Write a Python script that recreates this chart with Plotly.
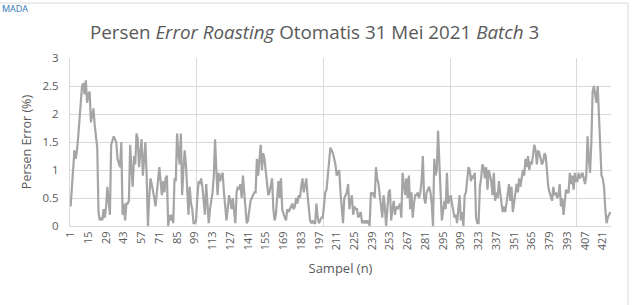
import plotly.graph_objects as go

values = [
    0.35, 0.75, 1.05, 1.35, 1.2, 1.35, 1.6, 1.9, 2.2, 2.5,
    2.55, 2.35, 2.6, 2.2, 2.35, 2.4, 1.85, 2.0, 2.1, 1.8,
    1.55, 1.4, 0.25, 0.1, 0.15, 0.1, 0.3, 0.15, 0.35, 0.7,
    0.45, 0.2, 1.45, 1.55, 1.6, 1.55, 1.5, 1.2, 1.1, 1.05,
    1.5, 0.2, 0.4, 0.1, 0.4, 0.4, 0.45, 1.45, 1.0, 0.7,
    1.25, 1.1, 1.65, 1.55, 1.05, 1.3, 1.55, 0.9, 1.2, 1.5,
    0.9, 0.0, 0.5, 0.85, 0.75, 0.65, 0.5, 0.35, 0.55, 0.75,
    1.05, 0.8, 0.55, 0.8, 0.6, 0.85, 0.9, 0.0, 0.2, 0.1,
    0.2, 0.05, 0.85, 0.8, 1.65, 1.3, 1.1, 1.65, 0.55, 1.0,
    1.35, 1.1, 0.75, 0.2, 0.7, 0.4, 0.3, 0.05, 0.05, 0.1,
    0.5, 0.8, 0.75, 0.85, 0.7, 0.5, 0.2, 0.75, 0.4, 0.05,
    0.3, 0.45, 0.6, 0.9, 1.55, 1.0, 0.55, 0.95, 0.8, 0.9,
    0.95, 0.6, 0.35, 0.1, 0.3, 0.55, 0.45, 0.3, 0.5, 0.2,
    0.05, 0.6, 0.7, 0.65, 0.75, 0.5, 0.9, 0.6, 0.3, 0.05,
    0.1, 0.3, 0.45, 0.5, 0.55, 0.6, 0.6, 1.2, 0.9, 1.2,
    1.45, 1.0, 1.3, 1.2, 0.95, 0.8, 0.55, 0.6, 0.7, 0.85,
    0.3, 0.1, 0.2, 0.5, 0.8, 0.5, 0.85, 0.3, 0.2, 0.15,
    0.1, 0.3, 0.25, 0.3, 0.35, 0.4, 0.3, 0.35, 0.5, 0.4,
    0.55, 0.5, 0.7, 0.85, 0.6, 0.7, 0.85, 0.55, 0.3, 0.1,
    0.05, 0.1, 0.05, 0.05, 0.4, 0.15, 0.05, 0.1, 0.15, 0.15,
    0.45, 0.6, 0.65, 0.95, 1.1, 1.4, 1.35, 1.3, 1.2, 1.1,
    0.9, 0.95, 1.0, 0.6, 0.35, 0.05, 0.5, 0.55, 0.6, 0.75,
    0.3, 0.45, 0.55, 0.2, 0.35, 0.3, 0.3, 0.15, 0.2, 0.25,
    0.05, 0.1, 0.05, 0.1, 0.05, 0.1, 0.0, 0.6, 0.55, 0.6,
    0.5, 1.05, 0.85, 0.75, 0.55, 0.3, 0.15, 0.55, 0.35, 0.0,
    0.3, 0.6, 0.65, 0.1, 0.3, 0.45, 0.2, 0.35, 0.3, 0.35,
    0.4, 0.15, 0.95, 0.75, 0.55, 0.85, 0.5, 0.9, 0.3, 0.6,
    0.15, 0.4, 0.55, 0.55, 0.6, 0.5, 0.6, 0.8, 1.25, 0.5,
    0.4, 0.6, 0.65, 0.7, 0.6, 0.4, 0.0, 1.2, 0.9, 1.0,
    1.7, 1.0, 0.6, 0.1, 0.3, 0.45, 0.3, 0.95, 0.4, 0.5,
    0.55, 0.4, 0.3, 0.15, 0.2, 0.05, 0.3, 0.55, 0.1, 0.25,
    0.0, 0.55, 0.6, 0.8, 1.05, 1.0, 0.8, 0.9, 0.85, 0.95,
    0.15, 0.05, 0.05, 0.7, 0.85, 1.1, 1.05, 0.85, 1.05, 0.65,
    1.0, 0.9, 0.8, 0.55, 0.95, 0.45, 0.6, 0.5, 0.8, 0.6,
    0.45, 0.25, 0.35, 0.25, 0.4, 0.6, 0.75, 0.45, 0.7, 0.25,
    0.4, 0.55, 0.75, 0.6, 0.85, 0.7, 0.85, 1.0, 0.9, 1.2,
    1.05, 1.25, 1.0, 1.15, 1.1, 1.3, 1.45, 1.35, 1.1, 1.35,
    1.3, 1.2, 1.1, 1.15, 1.3, 1.25, 0.9, 0.7, 0.6, 0.5,
    0.45, 0.7, 0.55, 0.6, 0.5, 0.55, 0.75, 0.35, 0.5, 0.2,
    0.5, 0.65, 0.6, 0.6, 0.95, 0.75, 0.9, 0.65, 0.95, 0.8,
    0.8, 0.95, 0.85, 0.9, 0.95, 0.85, 0.75, 0.9, 1.6, 1.2,
    0.95, 1.5, 2.4, 2.5, 2.35, 2.2, 2.5, 2.0, 1.2, 0.9,
    0.85, 0.7, 0.3, 0.05, 0.15, 0.2, 0.25,
]
samples = list(range(1, len(values) + 1))
x_tick_labels = list(range(1, len(values) + 1, 14))
y_ticks = [0, 0.5, 1, 1.5, 2, 2.5, 3]
grid_x = [100.5, 200.5, 300.5, 400.5]

FONT = "Open Sans"
TXT = "#595959"

fig = go.Figure()
fig.add_trace(go.Scatter(
    x=samples, y=values, mode="lines",
    line=dict(color="#a5a5a5", width=2.2),
    showlegend=False, hoverinfo="skip",
))

fig.update_layout(
    width=633, height=305,
    margin=dict(l=70, r=22, t=58, b=79),
    paper_bgcolor="white", plot_bgcolor="white",
    font=dict(family=FONT, color=TXT, size=11),
    title=dict(
        text="Persen <i>Error Roasting</i> Otomatis 31 Mei 2021 <i>Batch</i> 3",
        x=0.497, xanchor="center", y=0.895, yanchor="middle",
        font=dict(family=FONT, size=18.8, color=TXT),
    ),
    xaxis=dict(
        range=[0.5, len(values) + 0.5],
        tickmode="array", tickvals=x_tick_labels,
        ticktext=[str(v) for v in x_tick_labels],
        tickangle=-90, tickfont=dict(size=11, color=TXT),
        showgrid=False, zeroline=False,
        showline=True, linecolor="#d9d9d9", linewidth=1,
        ticks="", ticklen=0,
        minor=dict(tickmode="array", tickvals=grid_x, showgrid=True,
                   gridcolor="#d9d9d9", gridwidth=1, ticks=""),
        title=dict(text="Sampel (n)", font=dict(size=13, color=TXT), standoff=14),
    ),
    yaxis=dict(
        range=[0, 3], tickmode="array", tickvals=y_ticks,
        ticktext=[f"{v:g}" for v in y_ticks],
        tickfont=dict(size=11.5, color=TXT),
        showgrid=True, gridcolor="#d9d9d9", gridwidth=1,
        zeroline=False, showline=True, linecolor="#d9d9d9",
        ticks="", ticklabelstandoff=8,
        title=dict(text="Persen Error (%)", font=dict(size=12.5, color=TXT), standoff=8),
    ),
    shapes=[dict(type="rect", xref="paper", yref="paper",
                 x0=-0.3, x1=1.0314, y0=-1.0, y1=1.327,
                 line=dict(color="#d9d9d9", width=1), fillcolor="rgba(0,0,0,0)",
                 layer="below")],
    annotations=[dict(text="MADA", xref="paper", yref="paper",
                      x=-0.13, y=1.345, xanchor="left", yanchor="top",
                      showarrow=False, font=dict(family=FONT, size=9, color="#2e75b6"))],
)

fig.write_html("out.html")
